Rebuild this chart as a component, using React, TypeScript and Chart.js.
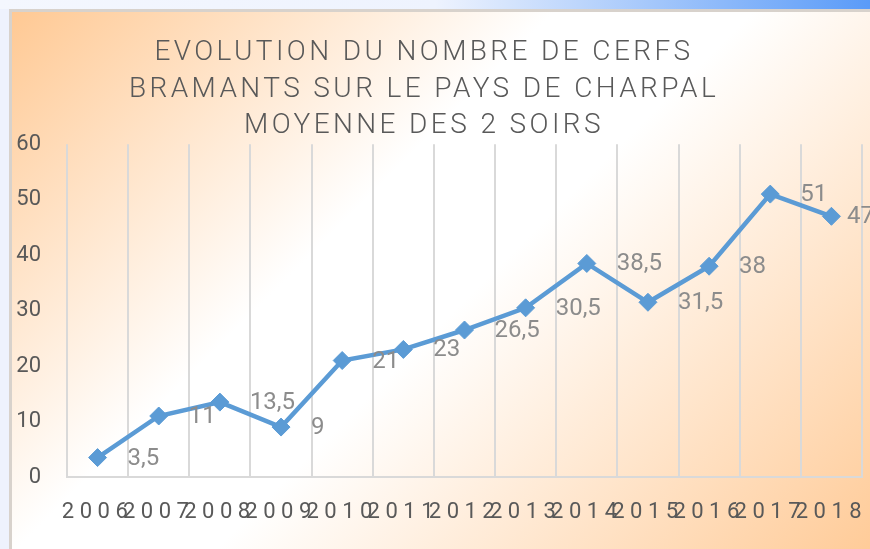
import React, { useEffect, useRef } from 'react';
import { Chart, registerables } from 'chart.js';

Chart.register(...registerables);

const YEARS = ['2006', '2007', '2008', '2009', '2010', '2011', '2012', '2013', '2014', '2015', '2016', '2017', '2018'];
const VALUES = [3.5, 11, 13.5, 9, 21, 23, 26.5, 30.5, 38.5, 31.5, 38, 51, 47];
const Y_MIN = 0;
const Y_MAX = 60;
const Y_STEP = 10;
const TITLE_LINES = ['EVOLUTION DU NOMBRE DE CERFS', 'BRAMANTS SUR LE PAYS DE CHARPAL', 'MOYENNE DES 2 SOIRS'];

const TITLE_CENTER_X = 412;
const TITLE_SPACING = '3.4px';
const XTICK_SPACING = '5.5px';

const fmt = (v: number) => String(v).replace('.', ',');

function wrapSpacing(obj: any, method: string, spacing: string, centerX?: number) {
  if (!obj) return;
  const flag = '__wrapped_' + method;
  if (obj[flag]) return;
  const orig = obj[method].bind(obj);
  obj[method] = (...args: any[]) => {
    const ctx: any = obj.ctx;
    const prev = ctx.letterSpacing;
    ctx.letterSpacing = spacing;
    let l = 0, r = 0;
    if (centerX !== undefined) {
      l = obj.left; r = obj.right;
      obj.left = 0; obj.right = centerX * 2;
    }
    orig(...args);
    if (centerX !== undefined) { obj.left = l; obj.right = r; }
    ctx.letterSpacing = prev;
  };
  obj[flag] = true;
}

const spacingPlugin = {
  id: 'spacingPlugin',
  afterLayout(chart: any) {
    wrapSpacing(chart.titleBlock, 'draw', TITLE_SPACING, TITLE_CENTER_X);
    wrapSpacing(chart.scales.x, 'drawLabels', XTICK_SPACING);
  },
};

const dataLabelPlugin = {
  id: 'dataLabelPlugin',
  afterDatasetsDraw(chart: any) {
    const ctx: CanvasRenderingContext2D = chart.ctx;
    const meta = chart.getDatasetMeta(0);
    const limit = chart.chartArea.right + 12;
    ctx.save();
    (ctx as any).letterSpacing = '0px';
    ctx.font = '24px Roboto';
    ctx.fillStyle = '#8C8C8C';
    ctx.textAlign = 'left';
    ctx.textBaseline = 'middle';
    meta.data.forEach((pt: any, i: number) => {
      const text = fmt(VALUES[i]);
      const w = ctx.measureText(text).width;
      const x = Math.min(pt.x + 30, limit - w);
      ctx.fillText(text, x, pt.y + 1);
    });
    ctx.restore();
  },
};

export default function App() {
  const ref = useRef<HTMLCanvasElement>(null);
  useEffect(() => {
    const chart = new Chart(ref.current as HTMLCanvasElement, {
      type: 'line',
      data: {
        labels: YEARS,
        datasets: [
          {
            data: VALUES,
            borderColor: '#5B9BD5',
            backgroundColor: '#5B9BD5',
            borderWidth: 4.5,
            pointStyle: 'rectRot',
            pointRadius: 9,
            pointBorderWidth: 1,
            pointBackgroundColor: '#5B9BD5',
            pointBorderColor: '#5B9BD5',
            tension: 0,
          },
        ],
      },
      options: {
        responsive: false,
        animation: false,
        devicePixelRatio: 1,
        layout: { padding: { left: 0, right: 30, top: 0, bottom: 0 } },
        plugins: {
          legend: { display: false },
          tooltip: { enabled: false },
          title: {
            display: true,
            text: TITLE_LINES,
            color: '#595959',
            font: { family: 'Roboto', size: 28, weight: '300', lineHeight: 1.3 },
            padding: { top: 23, bottom: 0 },
          },
        },
        scales: {
          x: {
            type: 'category',
            offset: true,
            afterFit: (s: any) => { s.height = 80; },
            grid: { display: true, color: '#D9D9D9', lineWidth: 2, drawTicks: false, offset: true },
            border: { display: true, color: '#D9D9D9', width: 2 },
            ticks: {
              color: '#595959',
              font: { family: 'Roboto', size: 22 },
              padding: 22,
              autoSkip: false,
              maxRotation: 0,
              minRotation: 0,
            },
          },
          y: {
            min: Y_MIN,
            max: Y_MAX,
            afterFit: (s: any) => { s.width = 55; },
            grid: { display: false, drawTicks: false },
            border: { display: false },
            ticks: {
              stepSize: Y_STEP,
              color: '#595959',
              font: { family: 'Roboto', size: 22 },
              padding: 26,
            },
          },
        },
      },
      plugins: [spacingPlugin, dataLabelPlugin],
    } as any);
    return () => chart.destroy();
  }, []);

  return (
    <div style={{ position: 'fixed', inset: 0, overflow: 'hidden', background: '#EEF2FD' }}>
      <div
        style={{
          position: 'absolute', left: 0, top: 0, right: 0, height: 9,
          background: 'linear-gradient(to right, #F4F7FE 0%, #EEF3FE 50%, #5A9BF8 100%)',
        }}
      />
      <div
        style={{
          position: 'absolute', left: 9, top: 9, width: 880, height: 545,
          border: '3px solid #D8D2CC',
          background: 'linear-gradient(135deg, #FFC994 0%, #FFFFFF 38%, #FFFFFF 52%, #FFC994 100%)',
        }}
      >
        <canvas ref={ref} width={880} height={545} style={{ display: 'block', width: 880, height: 545 }} />
      </div>
    </div>
  );
}
